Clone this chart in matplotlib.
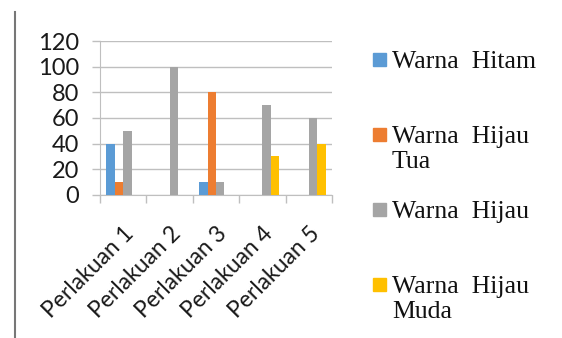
import matplotlib
matplotlib.use("Agg")
import matplotlib.pyplot as plt
import numpy as np
from matplotlib.patches import Rectangle
from matplotlib.lines import Line2D

categories = ["Perlakuan 1", "Perlakuan 2", "Perlakuan 3", "Perlakuan 4", "Perlakuan 5"]
hitam = [40, 0, 10, 0, 0]
hijau_tua = [10, 0, 80, 0, 0]
hijau = [50, 100, 10, 70, 60]
hijau_muda = [0, 0, 0, 30, 40]

series_names = ["Warna  Hitam", "Warna  Hijau\nTua", "Warna  Hijau", "Warna  Hijau\nMuda"]
series_values = [hitam, hijau_tua, hijau, hijau_muda]
colors = ["#5B9BD5", "#ED7D31", "#A5A5A5", "#FFC000"]
y_ticks = [0, 20, 40, 60, 80, 100, 120]

W, H = 562, 338
fig = plt.figure(figsize=(W / 100, H / 100), dpi=100)
ax = fig.add_axes([100 / W, 1 - 195 / H, 232 / W, 154 / H])

x = np.arange(len(categories))
bar_w = 1 / 5.5
for i, (vals, col) in enumerate(zip(series_values, colors)):
    ax.bar(x + (i - 1.5) * bar_w, vals, width=bar_w, color=col, zorder=3)

ax.set_xlim(-0.5, len(categories) - 0.5)
ax.set_ylim(0, 120)
ax.set_yticks(y_ticks)
ax.set_yticklabels([str(v) for v in y_ticks], family="Lato", fontsize=17, color="#1a1a1a")
ax.grid(axis="y", color="#BFBFBF", linewidth=1, zorder=0)

ax.set_xticks(x)
ax.set_xticklabels(categories, family="Lato", fontsize=16.5, rotation=45, color="#1a1a1a",
                   ha="right", va="top", rotation_mode="anchor")
ax.set_xticks(np.arange(len(categories) + 1) - 0.5, minor=True)
ax.tick_params(axis="x", which="major", length=0, pad=20)
ax.tick_params(axis="x", which="minor", length=6, color="#BFBFBF", width=1)
ax.tick_params(axis="y", length=6, color="#BFBFBF", width=1, pad=9)

for side in ["top", "right"]:
    ax.spines[side].set_visible(False)
ax.spines["left"].set_color("#BFBFBF")
ax.spines["bottom"].set_color("#BFBFBF")

# frame edge on the left
fig.add_artist(Line2D([14.5 / W, 14.5 / W], [0, 1 - 12 / H], transform=fig.transFigure,
                      color="#777777", linewidth=1.5))

# legend drawn by hand so entries sit at even spacing
baselines = [68, 143, 218, 293]
for name, col, base in zip(series_names, colors, baselines):
    fig.add_artist(Rectangle((373 / W, 1 - (base - 2) / H), 12.5 / W, 13 / H,
                             transform=fig.transFigure, color=col))
    for j, line in enumerate(name.split("\n")):
        fig.text(392 / W, 1 - (base + 25 * j) / H, line, family="Liberation Serif",
                 fontsize=18.5, va="baseline", ha="left", color="#111111")

fig.savefig("out.png", dpi=100)
